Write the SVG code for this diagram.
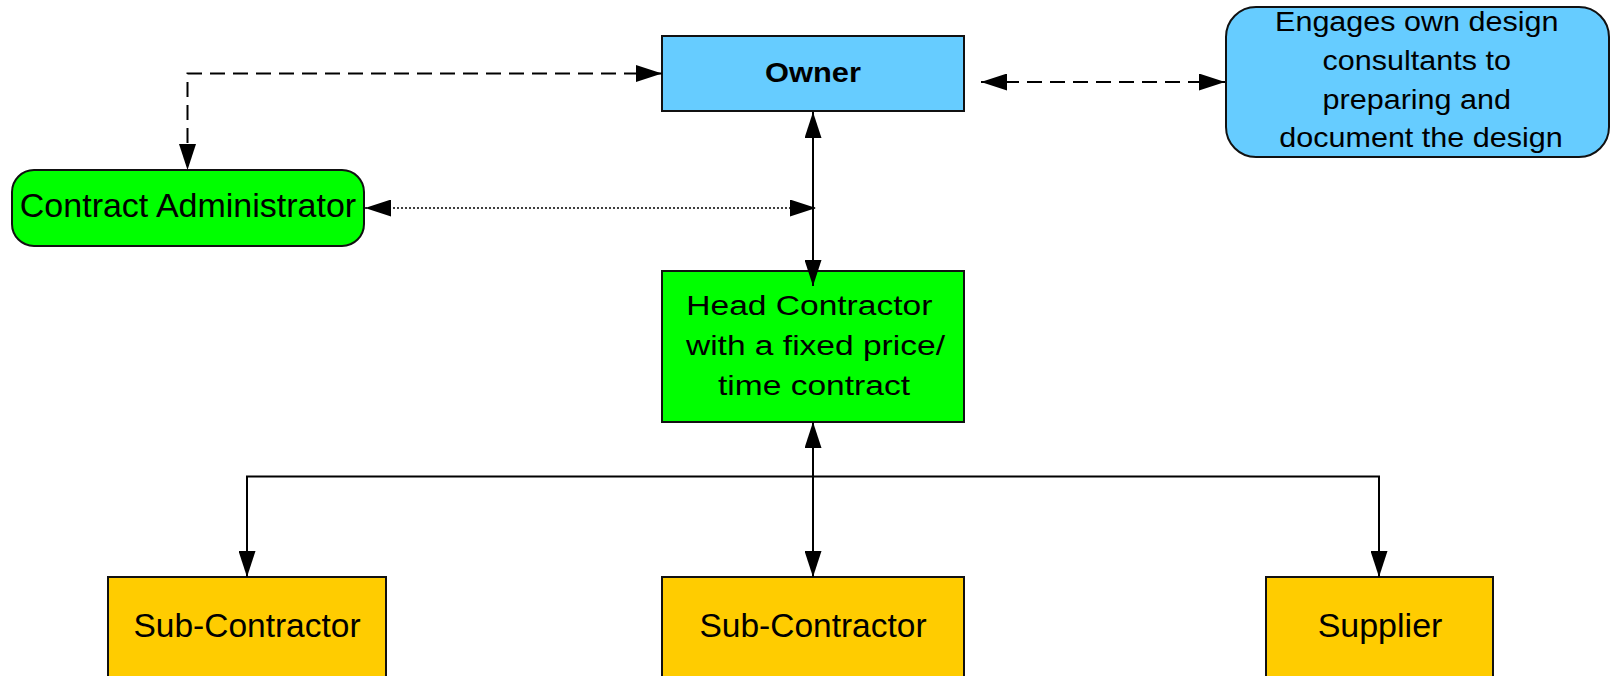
<svg xmlns="http://www.w3.org/2000/svg" width="1611" height="676" viewBox="0 0 1611 676">
  <style>
    .box { stroke: #111; stroke-width: 2; }
    .blue { fill: #66CCFF; }
    .green { fill: #00FF00; }
    .yellow { fill: #FFCC00; }
    .lbl { font-family: "Liberation Sans", Arial, sans-serif; fill: #000; text-anchor: middle; }
    .conn { fill: none; stroke: #000; stroke-width: 2; }
    .dash { stroke-dasharray: 15 8; }
    .dot { stroke-width: 1.6; stroke-dasharray: 2 2; }
    .both { marker-start: url(#arrow); marker-end: url(#arrow); }
    .end { marker-end: url(#arrow); }
  </style>
  <defs>
    <marker id="arrow" markerUnits="userSpaceOnUse" viewBox="0 0 26 17" markerWidth="26" markerHeight="17" refX="26" refY="8.5" orient="auto-start-reverse">
      <path d="M0,0 L26,8.5 L0,17 Z" fill="#000"/>
    </marker>
  </defs>

  <rect width="1611" height="676" fill="#fff"/>

  <!-- nodes -->
  <g id="owner">
    <rect class="box blue" x="662" y="36" width="302" height="75"/>
    <g transform="translate(813,82) scale(1.1,1)">
      <text class="lbl" x="0" y="0" font-size="28" font-weight="bold">Owner</text>
    </g>
  </g>

  <g id="design-consultants">
    <rect class="box blue" x="1226" y="7" width="383" height="150" rx="30" ry="30"/>
    <g transform="translate(1421,0) scale(1.11,1)">
      <text class="lbl" font-size="27.5">
        <tspan x="0" y="31.5">Engages own design</tspan>
        <tspan x="0" y="70.5">consultants to</tspan>
        <tspan x="0" y="109">preparing and</tspan>
        <tspan x="0" y="147.5">document the design</tspan>
      </text>
    </g>
  </g>

  <g id="contract-administrator">
    <rect class="box green" x="12" y="170" width="352" height="76" rx="22" ry="22"/>
    <text class="lbl" x="188" y="217" font-size="34">Contract Administrator</text>
  </g>

  <g id="head-contractor">
    <rect class="box green" x="662" y="271" width="302" height="151"/>
    <g transform="translate(814,0) scale(1.22,1)">
      <text class="lbl" font-size="27.5">
        <tspan x="0" y="315">Head Contractor</tspan>
        <tspan x="5" y="355">with a fixed price/</tspan>
        <tspan x="0" y="395">time contract</tspan>
      </text>
    </g>
  </g>

  <g id="sub-contractor-1">
    <rect class="box yellow" x="108" y="577" width="278" height="130"/>
    <text class="lbl" x="247" y="637" font-size="33.5">Sub-Contractor</text>
  </g>

  <g id="sub-contractor-2">
    <rect class="box yellow" x="662" y="577" width="302" height="130"/>
    <text class="lbl" x="813" y="637" font-size="33.5">Sub-Contractor</text>
  </g>

  <g id="supplier">
    <rect class="box yellow" x="1266" y="577" width="227" height="130"/>
    <text class="lbl" x="1380" y="637" font-size="34">Supplier</text>
  </g>

  <!-- connectors, drawn last so arrowheads sit on top of the boxes -->
  <g id="connectors">
    <path class="conn dash both" d="M662,73.5 L187.5,73.5 L187.5,170"/>
    <path class="conn dash both" d="M981,82 L1225,82"/>
    <path class="conn dot both" d="M365,208 L816,208"/>
    <path class="conn both" d="M813,112 L813,286"/>
    <path class="conn both" d="M813,422 L813,577"/>
    <path class="conn end" d="M813,476.5 L247,476.5 L247,577"/>
    <path class="conn end" d="M813,476.5 L1379,476.5 L1379,577"/>
  </g>
</svg>
